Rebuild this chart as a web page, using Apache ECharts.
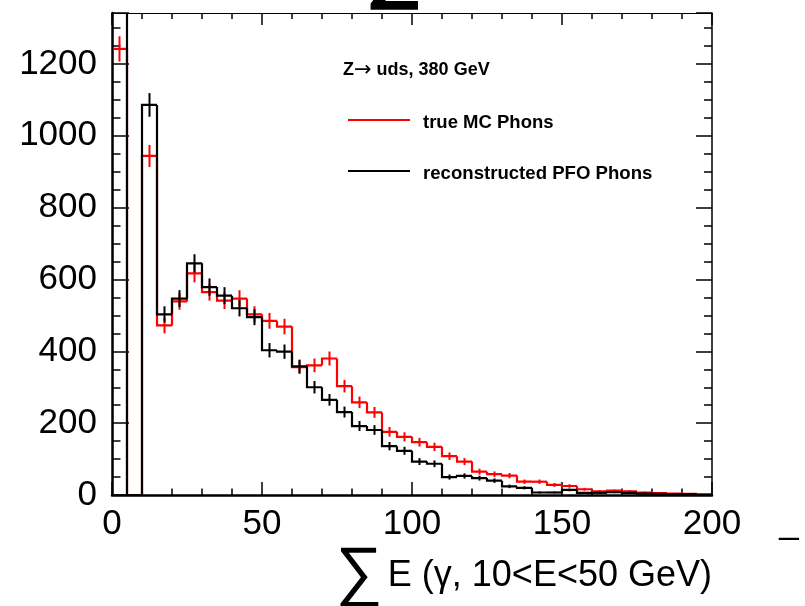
<!DOCTYPE html>
<html>
<head>
<meta charset="utf-8">
<script src="https://cdn.jsdelivr.net/npm/echarts@6/dist/echarts.min.js"></script>
<style>
  html, body { margin: 0; padding: 0; background: #ffffff; }
  #chart { width: 805px; height: 606px; }
</style>
</head>
<body>
<div id="chart"></div>
<script>
// Summed photon energy per event, 5 GeV bins from 0 to 200 GeV.
const binWidth = 5;
const binLow = [0, 5, 10, 15, 20, 25, 30, 35, 40, 45,
                50, 55, 60, 65, 70, 75, 80, 85, 90, 95,
                100, 105, 110, 115, 120, 125, 130, 135, 140, 145,
                150, 155, 160, 165, 170, 175, 180, 185, 190, 195];

// true MC photons (red)
const trueMC = [1242, 0, 944, 472, 539, 617, 565, 541, 547, 503,
                485, 469, 356, 361, 380, 303, 258, 230, 176, 162,
                147, 134, 108, 93, 65, 58, 54, 37, 37, 28,
                25, 16, 10, 12, 10, 7, 5, 4, 3, 1];

// reconstructed PFO photons (black); the first bin runs off the top of the frame
const recoPFO = [1900, 0, 1086, 503, 547, 645, 579, 555, 520, 495,
                 403, 399, 358, 300, 265, 231, 192, 181, 136, 123,
                 93, 87, 50, 53, 47, 40, 24, 20, 7, 7,
                 14, 6, 6, 8, 6, 4, 3, 2, 2, 1];

const xTickLabels = [0, 50, 100, 150, 200];
const yTickLabels = [0, 200, 400, 600, 800, 1000, 1200];

const X_MIN = 0, X_MAX = 200, Y_MIN = 0, Y_MAX = 1342;
const FONT = 'Liberation Sans, Arial, Helvetica, sans-serif';

// rows: [low edge, content, previous bin content, is last bin]
function histRows(values) {
  return binLow.map((x, i) => [x, values[i], i > 0 ? values[i - 1] : 0, i === binLow.length - 1 ? 1 : 0]);
}

// Step outline + Poisson error cross for one bin
function makeRenderer(color) {
  return function (params, api) {
    const x0 = api.value(0);
    const v = api.value(1);
    const prev = api.value(2);
    const last = api.value(3);
    const x1 = x0 + binWidth;
    const pts = [api.coord([x0, prev]), api.coord([x0, v]), api.coord([x1, v])];
    if (last) pts.push(api.coord([x1, 0]));
    const children = [{
      type: 'polyline',
      shape: { points: pts },
      style: { stroke: color, lineWidth: 2.2, fill: null, lineJoin: 'miter' }
    }];
    if (v > 0) {
      const err = Math.sqrt(v);
      const xc = x0 + binWidth / 2;
      const a = api.coord([xc, v - err]);
      const b = api.coord([xc, v + err]);
      children.push({
        type: 'line',
        shape: { x1: a[0], y1: a[1], x2: b[0], y2: b[1] },
        style: { stroke: color, lineWidth: 2 }
      });
    }
    return { type: 'group', children: children };
  };
}

const chart = echarts.init(document.getElementById('chart'), null, { renderer: 'canvas' });

function axisCommon(extra) {
  return Object.assign({
    type: 'value',
    splitLine: { show: false },
    axisLine: { show: true, onZero: false, lineStyle: { color: '#000', width: 1.5 } },
    axisTick: { show: true, inside: true, lineStyle: { color: '#000', width: 1.5 } },
    minorTick: { show: true, lineStyle: { color: '#000', width: 1.5 } },
    axisLabel: { show: false }
  }, extra);
}

const option = {
  backgroundColor: '#ffffff',
  animation: false,
  grid: { left: 112, right: 93, top: 13, bottom: 111, containLabel: false },
  xAxis: [
    axisCommon({
      position: 'bottom', min: X_MIN, max: X_MAX, interval: 50,
      axisLine: { show: true, onZero: false, lineStyle: { color: '#000', width: 2.5 } },
      axisTick: { show: true, inside: true, length: 13, lineStyle: { color: '#000', width: 1.5 } },
      minorTick: { show: true, splitNumber: 5, length: 6.5, lineStyle: { color: '#000', width: 1.5 } },
      axisLabel: {
        show: true, margin: 12, color: '#000', fontSize: 35, fontFamily: FONT,
        formatter: v => (xTickLabels.indexOf(v) >= 0 ? String(v) : '')
      }
    }),
    axisCommon({
      position: 'top', min: X_MIN, max: X_MAX, interval: 50,
      axisLine: { show: true, onZero: false, lineStyle: { color: '#000', width: 1 } },
      axisTick: { show: true, inside: true, length: 12, lineStyle: { color: '#000', width: 1.5 } },
      minorTick: { show: true, splitNumber: 5, length: 6, lineStyle: { color: '#000', width: 1.5 } }
    })
  ],
  yAxis: [
    axisCommon({
      position: 'left', min: Y_MIN, max: Y_MAX, interval: 200,
      axisLine: { show: true, onZero: false, lineStyle: { color: '#000', width: 2.5 } },
      axisTick: { show: true, inside: true, length: 17, lineStyle: { color: '#000', width: 1.5 } },
      minorTick: { show: true, splitNumber: 4, length: 8.5, lineStyle: { color: '#000', width: 1.5 } },
      axisLabel: {
        show: true, margin: 15, color: '#000', fontSize: 35, fontFamily: FONT,
        formatter: v => (yTickLabels.indexOf(v) >= 0 ? String(v) : '')
      }
    }),
    axisCommon({
      position: 'right', min: Y_MIN, max: Y_MAX, interval: 200,
      axisLine: { show: true, onZero: false, lineStyle: { color: '#000', width: 1.5 } },
      axisTick: { show: true, inside: true, length: 16, lineStyle: { color: '#000', width: 1.5 } },
      minorTick: { show: true, splitNumber: 4, length: 8, lineStyle: { color: '#000', width: 1.5 } }
    })
  ],
  series: [
    {
      name: 'true MC Phons', type: 'custom', clip: true,
      xAxisIndex: 0, yAxisIndex: 0,
      renderItem: makeRenderer('#ff0000'),
      data: histRows(trueMC)
    },
    {
      name: 'reconstructed PFO Phons', type: 'custom', clip: true,
      xAxisIndex: 0, yAxisIndex: 0,
      renderItem: makeRenderer('#000000'),
      data: histRows(recoPFO)
    }
  ],
  graphic: [
    // legend block
    {
      type: 'text', left: 343, top: 60,
      style: {
        text: '{b|Z}{a|\u2192}{b| uds, 380 GeV}',
        rich: {
          b: { fill: '#000', font: 'bold 18px ' + FONT },
          a: { fill: '#000', font: '21px DejaVu Sans, ' + FONT }
        }
      }
    },
    { type: 'line', shape: { x1: 348, y1: 120, x2: 410, y2: 120 }, style: { stroke: '#ff0000', lineWidth: 2 } },
    { type: 'text', left: 423, top: 113, style: { text: 'true MC Phons', fill: '#000', font: 'bold 18.5px ' + FONT } },
    { type: 'line', shape: { x1: 348, y1: 171, x2: 410, y2: 171 }, style: { stroke: '#000', lineWidth: 2 } },
    { type: 'text', left: 423, top: 164, style: { text: 'reconstructed PFO Phons', fill: '#000', font: 'bold 18.6px ' + FONT } },
    // x axis title
    { type: 'text', x: 359, y: 575, style: { text: '\u2211', fill: '#000', font: '66px ' + FONT, align: 'center', verticalAlign: 'middle' } },
    { type: 'text', x: 712, y: 576, style: { text: 'E (\u03b3, 10<E<50 GeV)', fill: '#000', font: '36px ' + FONT, align: 'right', verticalAlign: 'middle' } },
    // page fragments around the frame
    { type: 'text', x: 394, y: 10, style: { text: '\u2211', fill: '#000', font: 'bold 80px ' + FONT, align: 'center', verticalAlign: 'bottom' } },
    { type: 'text', x: 789, y: 523, style: { text: '_', fill: '#000', font: '35px ' + FONT, align: 'center', verticalAlign: 'middle' } }
  ]
};

chart.setOption(option);
</script>
</body>
</html>
